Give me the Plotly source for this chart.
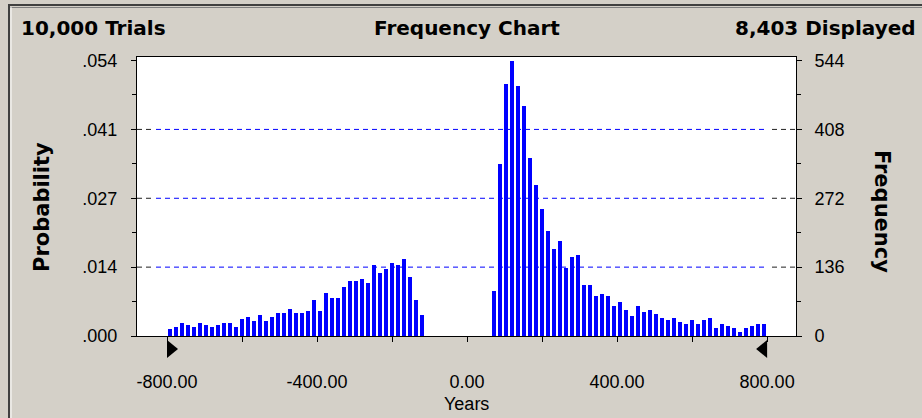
import plotly.graph_objects as go

# Crystal Ball style frequency chart (100 bins, -800..800 years)
TRIALS = 10000
BIN_LO = -800
BIN_W = 16

# counts per bin, left to right (bins 43-53 are empty)
counts_left = [13, 17, 25, 21, 17, 25, 21, 17, 21, 25, 25, 17, 33, 37, 29, 41, 29, 37, 45, 45, 53, 45, 45, 49,
               72, 49, 84, 76, 76, 96, 108, 108, 112, 104, 140, 124, 132, 144, 140, 152, 116, 72, 41]
counts_gap = [0] * 11
counts_right = [88, 339, 498, 544, 493, 454, 351, 299, 251, 208, 171, 188, 135, 156, 159, 100, 100, 79,
                83, 79, 59, 67, 51, 40, 59, 47, 51, 43, 36, 32, 36, 28, 24, 32, 24, 32, 36,
                16, 24, 20, 16, 8, 16, 20, 24, 24]
counts = counts_left + counts_gap + counts_right

freq_ticks = [0, 136, 272, 408, 544]
prob_labels = [".000", ".014", ".027", ".041", ".054"]
x_ticks = [-800, -400, 0, 400, 800]
x_labels = ["-800.00", "-400.00", "0.00", "400.00", "800.00"]

header_left = "10,000 Trials"
header_mid = "Frequency Chart"
header_right = "8,403 Displayed"

bin_centers = [BIN_LO + BIN_W * (i + 0.5) for i in range(len(counts))]
probs = [c / TRIALS for c in counts]

# layout geometry in pixels
W, H = 922, 418
L, R, T, B = 137, 126, 57, 82
PW, PH = W - L - R, H - T - B
YMAX = 551


def px_x(px):
    return (px - L) / PW


def px_y(py):
    return (H - B - py) / PH


BG = "#D4D0C8"
BLUE = "#0000FF"
tick_font = dict(family="Liberation Sans, Arial, sans-serif", size=18, color="black")
bold_font = dict(family="DejaVu Sans, sans-serif", size=20, color="black", weight="bold")

fig = go.Figure()

fig.add_trace(go.Bar(
    x=bin_centers,
    y=probs,
    width=BIN_W * 0.6,
    marker=dict(color=BLUE, line=dict(width=0)),
    hoverinfo="x+y",
    showlegend=False,
))
# invisible twin so the frequency axis is drawn
fig.add_trace(go.Scatter(
    x=bin_centers, y=counts, yaxis="y2", mode="markers",
    marker=dict(opacity=0), hoverinfo="skip", showlegend=False,
))

shapes = []
# dashed grid lines: blue across, black stubs near the axes
for v in freq_ticks[1:-1]:
    shapes.append(dict(type="line", xref="paper", yref="y2", x0=px_x(156), x1=px_x(768), y0=v, y1=v,
                       line=dict(color=BLUE, width=1, dash="5px,4px"), layer="below"))
    for a, b in [(0, px_x(152)), (px_x(772), 1)]:
        shapes.append(dict(type="line", xref="paper", yref="y2", x0=a, x1=b, y0=v, y1=v,
                           line=dict(color="#202020", width=1, dash="5px,4px"), layer="below"))

# certainty grabbers at the display range ends
shapes.append(dict(type="path", xref="x", xsizemode="pixel", xanchor=x_ticks[0],
                   yref="paper", ysizemode="pixel", yanchor=0,
                   path="M0,-4 L0,-22 L11,-13 Z", fillcolor="black", line=dict(width=0)))
shapes.append(dict(type="path", xref="x", xsizemode="pixel", xanchor=x_ticks[-1],
                   yref="paper", ysizemode="pixel", yanchor=0,
                   path="M0,-4 L0,-22 L-11,-13 Z", fillcolor="black", line=dict(width=0)))

# window frame (dark outer line + highlight)
shapes += [
    dict(type="line", xref="paper", yref="paper", x0=px_x(8), x1=px_x(W), y0=px_y(5), y1=px_y(5),
         line=dict(color="#404040", width=2)),
    dict(type="line", xref="paper", yref="paper", x0=px_x(10), x1=px_x(W), y0=px_y(7.5), y1=px_y(7.5),
         line=dict(color="#808080", width=1)),
    dict(type="line", xref="paper", yref="paper", x0=px_x(9), x1=px_x(9), y0=px_y(5), y1=px_y(H),
         line=dict(color="#404040", width=2)),
    dict(type="line", xref="paper", yref="paper", x0=px_x(11), x1=px_x(11), y0=px_y(7), y1=px_y(H),
         line=dict(color="white", width=1)),
]

annotations = [
    dict(text=header_left, x=px_x(19), y=px_y(28), xanchor="left"),
    dict(text=header_mid, x=0.5, y=px_y(28), xanchor="center"),
    dict(text=header_right, x=px_x(918), y=px_y(28), xanchor="right"),
    dict(text="Probability", x=px_x(42), y=px_y(207), xanchor="center",
         textangle=-90, font=dict(bold_font, size=21)),
    dict(text="Frequency", x=px_x(882), y=px_y(211), xanchor="center",
         textangle=90, font=dict(bold_font, size=21)),
    dict(text="Years", x=0.5, y=px_y(404), xanchor="center", font=tick_font),
]
for a in annotations:
    a.update(xref="paper", yref="paper", yanchor="middle", showarrow=False)
    a.setdefault("font", bold_font)

fig.update_layout(
    width=W, height=H,
    margin=dict(l=L, r=R, t=T, b=B, pad=0),
    paper_bgcolor=BG,
    plot_bgcolor="white",
    bargap=0,
    shapes=shapes,
    annotations=annotations,
    xaxis=dict(
        range=[-880, 877],
        tickvals=x_ticks, ticktext=x_labels,
        ticks="outside", ticklen=5, tickcolor="black", ticklabelstandoff=24,
        minor=dict(dtick=200, tick0=0, ticks="outside", ticklen=5, tickcolor="black"),
        showgrid=False, zeroline=False,
        showline=True, linecolor="black", linewidth=1, mirror=True,
        tickfont=tick_font,
    ),
    yaxis=dict(
        range=[0, YMAX / TRIALS],
        tickvals=[f / TRIALS for f in freq_ticks], ticktext=prob_labels,
        ticks="outside", ticklen=5, tickcolor="black", ticklabelstandoff=10,
        minor=dict(dtick=68 / TRIALS, tick0=0, ticks="outside", ticklen=4, tickcolor="black"),
        showgrid=False, zeroline=False,
        showline=True, linecolor="black", linewidth=1,
        tickfont=tick_font,
    ),
    yaxis2=dict(
        range=[0, YMAX], overlaying="y", side="right",
        tickvals=freq_ticks, ticktext=[str(v) for v in freq_ticks],
        ticks="outside", ticklen=5, tickcolor="black", ticklabelstandoff=9,
        minor=dict(dtick=68, tick0=0, ticks="outside", ticklen=4, tickcolor="black"),
        showgrid=False, zeroline=False,
        showline=True, linecolor="black", linewidth=1,
        tickfont=tick_font,
    ),
)

# drop the default 8px page margin so the figure fills the window
fig.write_html("out.html", config={"displayModeBar": False},
               post_script="document.body.style.margin='0px';")
